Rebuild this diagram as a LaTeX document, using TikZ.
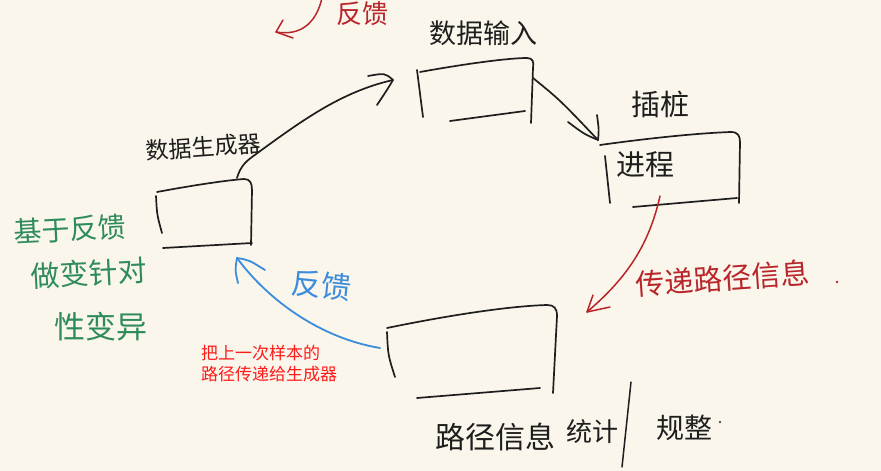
\documentclass[tikz,border=0pt]{standalone}
\usepackage{fontspec}
\newfontfamily\cjk{Noto Sans CJK SC}
\usetikzlibrary{calc}

\definecolor{paper}{HTML}{FAF6EB}
\definecolor{ink}{HTML}{1E1E1E}
\definecolor{inkred}{HTML}{B8262B}
\definecolor{inkblue}{HTML}{3C8CDC}
\definecolor{inkgreen}{HTML}{2E8B5A}
\definecolor{typered}{HTML}{FF1A1A}

\tikzset{
  pen/.style={line width=1.7pt, line cap=round, line join=round, draw=ink},
  redpen/.style={pen, draw=inkred, line width=1.5pt},
  bluepen/.style={pen, draw=inkblue, line width=1.8pt},
  hand/.style={font=\cjk\fontsize{#1}{#1}\selectfont, inner sep=0pt, text=ink},
  hand/.default=28,
  boxarea/.style={minimum width=#1, minimum height=55pt, inner sep=0pt},
}

\begin{document}
\begin{tikzpicture}[x=1pt,y=-1pt]
  % paper
  \fill[paper] (0,0) rectangle (881,471);
  \useasboundingbox (0,0) rectangle (881,471);
  \clip (0,0) rectangle (881,471);

  % ---------- box areas ----------
  \node[boxarea=92pt]  (gen)  at (205,215) {};
  \node[boxarea=112pt] (inp)  at (475,93)  {};
  \node[boxarea=136pt] (proc) at (670,170) {};
  \node[boxarea=168pt] (stat) at (472,352) {};

  % connector end points
  \coordinate (genOut)  at (237,178);
  \coordinate (inpIn)   at (393,80);
  \coordinate (inpOut)  at (533,78);
  \coordinate (procIn)  at (598,140);
  \coordinate (procOut) at (660,196);
  \coordinate (statIn)  at (587,312);
  \coordinate (statOut) at (380,348);
  \coordinate (genIn)   at (237,258);
  \coordinate (fbFrom)  at (322,-2);
  \coordinate (fbTo)    at (276,32);

  % ---------- sketched boxes ----------
  % generator
  \draw[pen] (157,192) .. controls (200,184) and (230,180) .. (244,179)
             .. controls (250,179) and (252,183) .. (252,190) -- (251,245);
  \draw[pen] (156,196) .. controls (157,215) .. (162,233);
  \draw[pen] (163,248) -- (252,243);
  % data input
  \draw[pen] (420,72) .. controls (470,63) and (510,58) .. (527,58)
             .. controls (533,58) and (534,62) .. (533,68) -- (531,123);
  \draw[pen] (417,70) -- (423,117);
  \draw[pen] (450,121) -- (525,111);
  % instrumented process
  \draw[pen] (600,145) .. controls (650,138) and (700,133) .. (731,132)
             .. controls (738,132) and (740,136) .. (740,142) -- (739,203);
  \draw[pen] (605,156) -- (610,203);
  \draw[pen] (633,207) -- (737,198);
  % path statistics
  \draw[pen] (387,328) .. controls (450,315) and (510,306) .. (547,305)
             .. controls (554,305) and (557,308) .. (557,316) -- (553,393);
  \draw[pen] (387,332) .. controls (388,355) .. (395,377);
  \draw[pen] (417,398) -- (540,388);

  % ---------- connectors ----------
  % generator -> data input
  \draw[pen] (genOut) .. controls (240,168) and (244,163) .. (252,157)
             .. controls (300,122) and (340,92) .. (inpIn);
  \draw[pen] ($(inpIn)+(-25,-4)$) .. controls ($(inpIn)+(-8,-7)$) .. (inpIn)
             .. controls ($(inpIn)+(-6,10)$) .. ($(inpIn)+(-16,25)$);
  % data input -> process
  \draw[pen] (inpOut) .. controls (560,100) .. (procIn);
  \draw[pen] ($(procIn)+(-1,-25)$) .. controls ($(procIn)+(1,-10)$) .. (procIn)
             .. controls ($(procIn)+(-14,-6)$) .. ($(procIn)+(-30,-18)$);
  % process -> statistics (red)
  \draw[redpen] (procOut) .. controls (648,250) and (622,282) .. (statIn);
  \draw[redpen] ($(statIn)+(23,-5)$) -- (statIn) -- ($(statIn)+(6,-17)$);
  % statistics -> generator (blue feedback)
  \draw[bluepen] (statOut) .. controls (320,338) and (268,300) .. (genIn);
  \draw[bluepen] ($(genIn)+(28,12)$) .. controls ($(genIn)+(12,2)$) .. (genIn)
                 .. controls ($(genIn)+(-2,12)$) .. ($(genIn)+(1,25)$);
  % feedback arrow at the top edge (red)
  \draw[redpen] (fbFrom) .. controls (316,24) and (300,36) .. (fbTo);
  \draw[redpen] ($(fbTo)+(7,-12)$) -- (fbTo) -- ($(fbTo)+(17,6)$);

  % ---------- labels ----------
  \node[hand=27] (inpLbl) at (483,33) {数据输入};
  \node[hand=23, rotate=4] (genLbl) at (203,147) {数据生成器};
  \node[hand=29] (instLbl) at (660,104) {插桩};
  \node[hand=29] (procLbl) at (645,165) {进程};
  \node[hand=29, text=inkred, rotate=4] (passLbl) at (723,278) {传递路径信息};
  \node[hand=26, text=inkred] (topLbl) at (362,14) {反馈};
  \node[hand=30, text=inkblue, rotate=-6] (fbLbl) at (322,285) {反馈};

  \node[hand=28, text=inkgreen, rotate=3] (g1) at (70,229) {基于反馈};
  \node[hand=29, text=inkgreen, rotate=3] (g2) at (89,273) {做变针对};
  \node[hand=31, text=inkgreen] (g3) at (101,327) {性变异};

  \node[hand=17, text=typered, anchor=north west, align=left,
        font=\cjk\fontsize{17}{20.5}\selectfont] (note) at (201,345)
        {把上一次样本的\\路径传递给生成器};

  \node[hand=30] (statLbl) at (495,437) {路径信息};
  \node[hand=26] (statLbl2) at (592,432) {统计};
  \node[hand=28] (statLbl3) at (684,428) {规整};
  \draw[pen, line width=1.5pt] (631,382) -- (622,467);

  % stray dots
  \fill[inkred] (837,282) circle (1.3pt);
  \fill[ink] (720,422) circle (1.2pt);
\end{tikzpicture}
\end{document}
